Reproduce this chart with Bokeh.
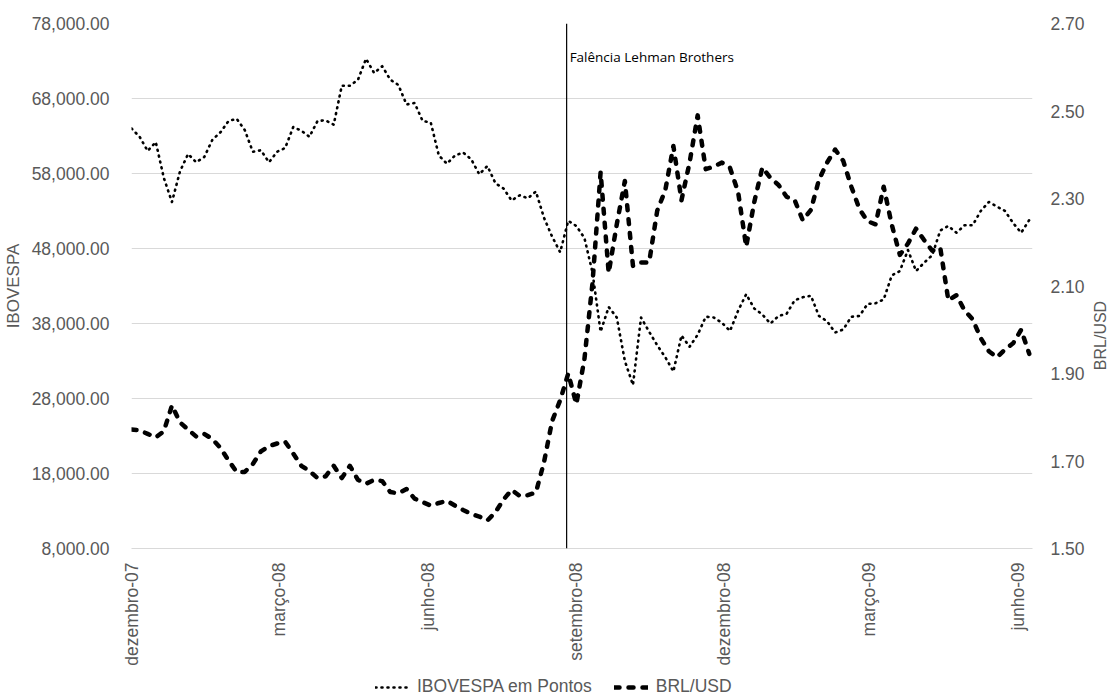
import math
import pandas as pd
from bokeh.plotting import figure
from bokeh.layouts import column, row
from bokeh.models import (Range1d, LinearAxis, FixedTicker, NumeralTickFormatter,
                          Legend, LegendItem, Span, Label, ColumnDataSource)
from bokeh.embed import file_html
from bokeh.resources import INLINE

# ---------------- data ----------------
start_date = "2007-12-21"
end_date = "2009-06-30"
sample_step = "5D"
lehman_date = "2008-09-15"
lehman_text = "Falência Lehman Brothers"

ibovespa = [
    64000, 62900, 61000, 62200, 57400, 54200, 58300, 60600, 59500, 60200,
    62500, 63500, 65000, 65300, 63800, 60900, 61100, 59500, 60900, 61400,
    64200, 63700, 62900, 65000, 65100, 64500, 69700, 69700, 70500, 73300,
    71400, 72300, 70500, 69800, 67200, 67400, 65000, 64800, 60400, 59300,
    60400, 60800, 59900, 57900, 59000, 56700, 56000, 54400, 55100, 54700,
    55600, 52100, 49600, 47500, 51700, 51000, 49400, 44800, 36900, 40200,
    38800, 33000, 29800, 38800, 36900, 35100, 33500, 31600, 36400, 34900,
    36500, 38900, 38800, 38100, 37000, 39700, 41900, 40000, 39200, 38000,
    39000, 39300, 41100, 41500, 41700, 39000, 38300, 36800, 37200, 38900,
    39000, 40600, 40700, 41200, 44400, 45000, 47800, 45000, 46100, 47100,
    50400, 51000, 50100, 51100, 51100, 53000, 54200, 53600, 53000, 51400,
    50100, 51800,
]

brl_usd = [
    1.772, 1.770, 1.762, 1.754, 1.768, 1.827, 1.788, 1.772, 1.756, 1.762,
    1.750, 1.730, 1.701, 1.675, 1.675, 1.693, 1.722, 1.734, 1.740, 1.744,
    1.717, 1.689, 1.677, 1.661, 1.665, 1.689, 1.661, 1.689, 1.657, 1.648,
    1.657, 1.654, 1.629, 1.626, 1.636, 1.614, 1.606, 1.598, 1.604, 1.609,
    1.598, 1.588, 1.579, 1.573, 1.564, 1.583, 1.612, 1.634, 1.620, 1.622,
    1.628, 1.697, 1.791, 1.839, 1.900, 1.830, 1.933, 2.107, 2.360, 2.130,
    2.241, 2.340, 2.146, 2.154, 2.154, 2.272, 2.319, 2.420, 2.296, 2.382,
    2.490, 2.367, 2.373, 2.382, 2.370, 2.315, 2.190, 2.292, 2.371, 2.347,
    2.331, 2.304, 2.296, 2.250, 2.274, 2.343, 2.382, 2.412, 2.386, 2.327,
    2.276, 2.248, 2.241, 2.327, 2.240, 2.171, 2.197, 2.231, 2.205, 2.181,
    2.187, 2.067, 2.079, 2.044, 2.024, 1.981, 1.951, 1.937, 1.955, 1.969,
    2.000, 1.945,
]

x_tick_dates = ["2007-12-21", "2008-03-21", "2008-06-21", "2008-09-21",
                "2008-12-21", "2009-03-21", "2009-06-21"]
x_tick_labels = ["dezembro-07", "março-08", "junho-08", "setembro-08",
                 "dezembro-08", "março-09", "junho-09"]
left_ticks = [8000, 18000, 28000, 38000, 48000, 58000, 68000, 78000]
right_ticks = [1.50, 1.70, 1.90, 2.10, 2.30, 2.50, 2.70]

series_names = ["IBOVESPA em Pontos", "BRL/USD"]
left_title = "IBOVESPA"
right_title = "BRL/USD"

# ---------------- build ----------------
dates = pd.date_range(start=start_date, periods=len(ibovespa), freq=sample_step)
src = ColumnDataSource(dict(date=dates, ibov=ibovespa, brl=brl_usd))

def ms(d):
    return pd.Timestamp(d).value / 1e6

GRAY = "#595959"
FONT = "Liberation Sans"
FS = "17.5px"
IBOV_STYLE = dict(line_color="black", line_width=2.6, line_dash="1 5",
                  line_cap="round", line_join="round")
BRL_STYLE = dict(line_color="black", line_width=4.5, line_dash="5 9",
                 line_cap="round", line_join="round")

p = figure(x_axis_type="datetime", frame_width=901, frame_height=525,
           min_border_left=126, min_border_right=50, min_border_top=23,
           min_border_bottom=125,
           x_range=Range1d(ms(start_date), ms(end_date)),
           y_range=Range1d(left_ticks[0], left_ticks[-1]),
           output_backend="svg", toolbar_location=None)
p.outline_line_color = None
p.background_fill_color = "white"
p.border_fill_color = "white"

p.extra_y_ranges = {"brl": Range1d(right_ticks[0], right_ticks[-1])}

# grid
p.xgrid.grid_line_color = None
p.ygrid.ticker = FixedTicker(ticks=left_ticks)
p.ygrid.grid_line_color = "#d9d9d9"
p.ygrid.grid_line_width = 1

# left axis
ya = p.yaxis[0]
ya.ticker = FixedTicker(ticks=left_ticks)
ya.formatter = NumeralTickFormatter(format="0,0.00")
ya.axis_line_color = None
ya.major_tick_line_color = None
ya.minor_tick_line_color = None
ya.major_label_standoff = 16
ya.major_label_text_font = FONT
ya.major_label_text_font_size = FS
ya.major_label_text_color = GRAY
ya.axis_label = left_title
ya.axis_label_standoff = 6
ya.axis_label_text_font = FONT
ya.axis_label_text_font_size = "17px"
ya.axis_label_text_font_style = "normal"
ya.axis_label_text_color = GRAY

# right axis
ra = LinearAxis(y_range_name="brl", ticker=FixedTicker(ticks=right_ticks),
                formatter=NumeralTickFormatter(format="0.00"))
ra.axis_line_color = None
ra.major_tick_line_color = None
ra.minor_tick_line_color = None
ra.major_label_standoff = 12
ra.major_label_text_font = FONT
ra.major_label_text_font_size = FS
ra.major_label_text_color = GRAY
p.add_layout(ra, "right")

# x axis
xa = p.xaxis[0]
tick_ms = [ms(d) for d in x_tick_dates]
xa.ticker = FixedTicker(ticks=tick_ms)
xa.major_label_overrides = {t: lab for t, lab in zip(tick_ms, x_tick_labels)}
xa.major_label_orientation = math.pi / 2
xa.axis_line_color = "#d9d9d9"
xa.major_tick_line_color = None
xa.minor_tick_line_color = None
xa.major_label_standoff = 8
xa.major_label_text_font = FONT
xa.major_label_text_font_size = FS
xa.major_label_text_color = GRAY

# series
r1 = p.line("date", "ibov", source=src, **IBOV_STYLE)
r2 = p.line("date", "brl", source=src, y_range_name="brl", **BRL_STYLE)

# Lehman marker
p.add_layout(Span(location=ms(lehman_date), dimension="height",
                  line_color="black", line_width=1.2))
p.add_layout(Label(x=ms(lehman_date), y=492, y_units="screen", x_offset=3,
                   text=lehman_text, text_font="Open Sans",
                   text_font_size="13.5px", text_color="black",
                   text_baseline="middle", text_align="left"))

# right-hand axis title (reads bottom to top, as in the original)
tf = figure(width=26, height=525, min_border=0, min_border_left=0,
            min_border_right=0, min_border_top=0, min_border_bottom=0,
            x_range=Range1d(0, 1), y_range=Range1d(0, 1),
            x_axis_location=None, y_axis_location=None,
            output_backend="svg", toolbar_location=None)
tf.outline_line_color = None
tf.grid.grid_line_color = None
tf.add_layout(Label(x=13, y=190, x_units="screen", y_units="screen",
                    text=right_title, angle=math.pi / 2, text_font=FONT,
                    text_font_size="16px", text_color=GRAY,
                    text_align="center", text_baseline="middle"))

# legend strip under the chart
lg = figure(width=1077, height=24, min_border=0, min_border_left=0,
            min_border_right=0, min_border_top=0, min_border_bottom=0,
            x_range=Range1d(0, 1), y_range=Range1d(0, 1),
            x_axis_location=None, y_axis_location=None,
            output_backend="svg", toolbar_location=None)
lg.outline_line_color = None
lg.grid.grid_line_color = None
lg.border_fill_color = "white"
l1 = lg.line("date", "ibov", source=src, **IBOV_STYLE)   # off-range: legend sample only
l2 = lg.line("date", "brl", source=src, **BRL_STYLE)
legend = Legend(items=[LegendItem(label=series_names[0], renderers=[l1]),
                       LegendItem(label=series_names[1], renderers=[l2])],
                orientation="horizontal", location=(244, 0),
                glyph_width=34, glyph_height=18, label_height=18,
                label_standoff=8, spacing=22,
                padding=0, margin=0, border_line_color=None,
                background_fill_alpha=0,
                label_text_font=FONT, label_text_font_size=FS,
                label_text_color=GRAY)
lg.add_layout(legend, "center")

layout = row(column(p, lg), tf)
open("out.html", "w").write(file_html(layout, INLINE))
